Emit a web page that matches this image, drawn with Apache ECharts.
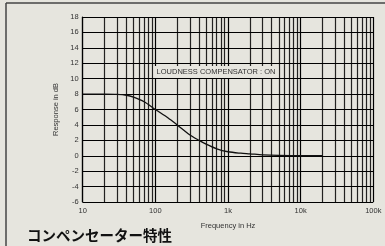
<!DOCTYPE html>
<html>
<head>
    <meta charset="utf-8">
    <title>コンペンセーター特性</title>
    <script src="https://cdn.jsdelivr.net/npm/echarts@6/dist/echarts.min.js"></script>
    <style>
        html, body { margin: 0; padding: 0; background: #e6e5de; }
    </style>
</head>
<body>
    <div id="main" style="width: 385px; height: 246px;"></div>

    <script>
        // frequency response of the loudness compensator
        const freqHz = [10, 20, 30, 40, 50, 70, 100, 150, 200, 300, 400, 500, 700, 1000, 1500, 2000, 3000, 5000, 10000, 20000];
        const responseDb = [8, 8, 7.97, 7.85, 7.6, 7.0, 6.0, 4.9, 4.0, 2.7, 2.0, 1.5, 0.9, 0.52, 0.33, 0.25, 0.12, 0.04, 0, 0];

        // minor log grid lines (2..9 in every decade)
        const minorFreqs = [20, 30, 40, 50, 60, 70, 80, 90,
            200, 300, 400, 500, 600, 700, 800, 900,
            2000, 3000, 4000, 5000, 6000, 7000, 8000, 9000,
            20000, 30000, 40000, 50000, 60000, 70000, 80000, 90000];

        const xTickLabels = { 10: '10', 100: '100', 1000: '1k', 10000: '10k', 100000: '100k' };

        const gridColor = '#000';
        const gridWidth = 1.2;
        const labelFont = 'Liberation Sans';

        const chart = echarts.init(document.getElementById('main'));
        chart.setOption({
            backgroundColor: '#e6e5de',
            animation: false,
            grid: { left: 82.7, right: 11.7, top: 17, bottom: 44 },
            xAxis: {
                type: 'log',
                logBase: 10,
                min: 10,
                max: 100000,
                name: 'Frequency in Hz',
                nameLocation: 'middle',
                nameGap: 20,
                nameTextStyle: { fontSize: 7.5, color: '#333', fontFamily: labelFont },
                axisLine: { lineStyle: { color: gridColor, width: gridWidth } },
                axisTick: { show: false },
                axisLabel: {
                    fontSize: 7.5, color: '#333', fontFamily: labelFont, margin: 5,
                    formatter: v => xTickLabels[Math.round(v)] || ''
                },
                splitLine: { show: true, lineStyle: { color: gridColor, width: gridWidth } }
            },
            yAxis: {
                type: 'value',
                min: -6,
                max: 18,
                interval: 2,
                name: 'Response in dB',
                nameLocation: 'middle',
                nameGap: 18,
                nameTextStyle: { fontSize: 7.5, color: '#333', fontFamily: labelFont },
                axisLine: { show: true, lineStyle: { color: gridColor, width: gridWidth } },
                axisTick: { show: false },
                axisLabel: { fontSize: 7.5, color: '#333', fontFamily: labelFont, margin: 4 },
                splitLine: { show: true, lineStyle: { color: gridColor, width: gridWidth } }
            },
            series: [
                {
                    type: 'line',
                    data: [],
                    z: 1,
                    markLine: {
                        silent: true,
                        symbol: 'none',
                        label: { show: false },
                        lineStyle: { color: gridColor, width: gridWidth, type: 'solid', opacity: 0.85 },
                        data: minorFreqs.map(f => ({ xAxis: f }))
                    }
                },
                {
                    type: 'line',
                    z: 5,
                    data: freqHz.map((f, i) => [f, responseDb[i]]),
                    smooth: 0.3,
                    showSymbol: false,
                    lineStyle: { color: '#111', width: 1.3 }
                }
            ],
            graphic: [
                {
                    type: 'line', z: 100,
                    shape: { x1: 6, y1: 3, x2: 385, y2: 3 },
                    style: { stroke: '#444', lineWidth: 1.5 }
                },
                {
                    type: 'line', z: 100,
                    shape: { x1: 6, y1: 3, x2: 6, y2: 246 },
                    style: { stroke: '#444', lineWidth: 1.5 }
                },
                {
                    type: 'text', z: 100,
                    x: 216, y: 72,
                    style: {
                        text: 'LOUDNESS COMPENSATOR : ON',
                        fontSize: 7.5, fontFamily: labelFont, fill: '#333',
                        align: 'center', verticalAlign: 'middle',
                        backgroundColor: '#e6e5de', padding: [2, 3]
                    }
                },
                {
                    type: 'text', z: 100,
                    x: 27, y: 235,
                    style: {
                        text: 'コンペンセーター特性',
                        fontSize: 14.5, fontWeight: 'bold', fontFamily: 'Noto Sans CJK JP', fill: '#111',
                        verticalAlign: 'middle'
                    }
                }
            ]
        });
    </script>
</body>
</html>
